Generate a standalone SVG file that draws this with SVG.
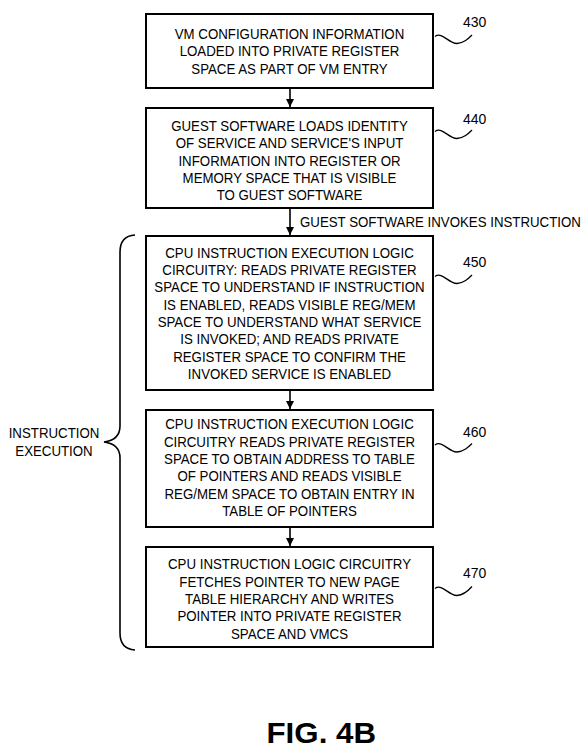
<svg xmlns="http://www.w3.org/2000/svg" width="588" height="751" viewBox="0 0 588 751">
<style>
  .box { fill: #fff; stroke: #000; stroke-width: 2; }
  .t { font-family: "Liberation Sans", Arial, sans-serif; font-size: 15px; fill: #000; text-anchor: middle; }
  .ts { font-family: "Liberation Sans", Arial, sans-serif; font-size: 15px; fill: #000; text-anchor: start; }
  .ref { font-family: "Liberation Sans", Arial, sans-serif; font-size: 14px; fill: #000; }
  .sq { fill: none; stroke: #000; stroke-width: 1.3; }
  .conn { stroke: #000; stroke-width: 1.6; fill: none; }
  .fig { font-family: "Liberation Sans", Arial, sans-serif; font-size: 30px; font-weight: bold; fill: #000; }
</style>
<defs>
  <marker id="ah" viewBox="0 0 8 8" refX="8" refY="4" markerWidth="8" markerHeight="8" markerUnits="userSpaceOnUse" orient="auto">
    <path d="M0,0 L8,4 L0,8 Z" fill="#000"/>
  </marker>
</defs>
<rect width="588" height="751" fill="#fff"/>

<g id="connectors">
  <line class="conn" x1="290" y1="89" x2="290" y2="107" marker-end="url(#ah)"/>
  <line class="conn" x1="290" y1="209" x2="290" y2="235" marker-end="url(#ah)"/>
  <line class="conn" x1="290" y1="391" x2="290" y2="409" marker-end="url(#ah)"/>
  <line class="conn" x1="290" y1="528" x2="290" y2="546" marker-end="url(#ah)"/>
  <g transform="translate(300,0) scale(0.885,1)">
    <text class="ts" x="0" y="227">GUEST SOFTWARE INVOKES INSTRUCTION</text>
  </g>
</g>

<g id="n430">
  <rect class="box" x="146" y="14" width="287" height="74"/>
  <g transform="translate(289.5,0) scale(0.885,1)">
    <text class="t" x="0" y="39">VM CONFIGURATION INFORMATION</text>
    <text class="t" x="0" y="56.5">LOADED INTO PRIVATE REGISTER</text>
    <text class="t" x="0" y="74">SPACE AS PART OF VM ENTRY</text>
  </g>
  <path class="sq" d="M435,36.5 C442,31 449,44 457,43.5 C464,43 468,39 472,35"/>
  <text class="ref" x="463" y="27.3">430</text>
</g>

<g id="n440">
  <rect class="box" x="146" y="108" width="287" height="100"/>
  <g transform="translate(289.5,0) scale(0.885,1)">
    <text class="t" x="0" y="131">GUEST SOFTWARE LOADS IDENTITY</text>
    <text class="t" x="0" y="148.3">OF SERVICE AND SERVICE'S INPUT</text>
    <text class="t" x="0" y="165.6">INFORMATION INTO REGISTER OR</text>
    <text class="t" x="0" y="183">MEMORY SPACE THAT IS VISIBLE</text>
    <text class="t" x="0" y="200.3">TO GUEST SOFTWARE</text>
  </g>
  <path class="sq" d="M435,131.5 C442,126 449,139 457,138.5 C464,138 468,134 472,130"/>
  <text class="ref" x="463" y="124.3">440</text>
</g>

<g id="n450">
  <rect class="box" x="146" y="236" width="287" height="154"/>
  <g transform="translate(289.5,0) scale(0.885,1)">
    <text class="t" x="0" y="257.7">CPU INSTRUCTION EXECUTION LOGIC</text>
    <text class="t" x="0" y="275">CIRCUITRY: READS PRIVATE REGISTER</text>
    <text class="t" x="0" y="292.3">SPACE TO UNDERSTAND IF INSTRUCTION</text>
    <text class="t" x="0" y="309.6">IS ENABLED, READS VISIBLE REG/MEM</text>
    <text class="t" x="0" y="327">SPACE TO UNDERSTAND WHAT SERVICE</text>
    <text class="t" x="0" y="344.3">IS INVOKED; AND READS PRIVATE</text>
    <text class="t" x="0" y="361.6">REGISTER SPACE TO CONFIRM THE</text>
    <text class="t" x="0" y="379">INVOKED SERVICE IS ENABLED</text>
  </g>
  <path class="sq" d="M435,276.5 C442,271 449,284 457,283.5 C464,283 468,279 472,275"/>
  <text class="ref" x="463" y="267.3">450</text>
</g>

<g id="n460">
  <rect class="box" x="146" y="410" width="287" height="117"/>
  <g transform="translate(289.5,0) scale(0.885,1)">
    <text class="t" x="0" y="429.3">CPU INSTRUCTION EXECUTION LOGIC</text>
    <text class="t" x="0" y="446.6">CIRCUITRY READS PRIVATE REGISTER</text>
    <text class="t" x="0" y="464">SPACE TO OBTAIN ADDRESS TO TABLE</text>
    <text class="t" x="0" y="481.3">OF POINTERS AND READS VISIBLE</text>
    <text class="t" x="0" y="498.6">REG/MEM SPACE TO OBTAIN ENTRY IN</text>
    <text class="t" x="0" y="516">TABLE OF POINTERS</text>
  </g>
  <path class="sq" d="M435,445 C442,439.5 449,452.5 457,452 C464,451.5 468,447.5 472,443.5"/>
  <text class="ref" x="463" y="436.7">460</text>
</g>

<g id="n470">
  <rect class="box" x="146" y="547" width="287" height="100"/>
  <g transform="translate(289.5,0) scale(0.885,1)">
    <text class="t" x="0" y="569.3">CPU INSTRUCTION LOGIC CIRCUITRY</text>
    <text class="t" x="0" y="586.6">FETCHES POINTER TO NEW PAGE</text>
    <text class="t" x="0" y="604">TABLE HIERARCHY AND WRITES</text>
    <text class="t" x="0" y="621.3">POINTER INTO PRIVATE REGISTER</text>
    <text class="t" x="0" y="638.6">SPACE AND VMCS</text>
  </g>
  <path class="sq" d="M435,588.5 C442,583 449,596 457,595.5 C464,595 468,591 472,586.5"/>
  <text class="ref" x="463" y="578.3">470</text>
</g>

<g id="brace">
  <path fill="none" stroke="#000" stroke-width="1.6" d="M135,235 Q120,236 120,252 L120,426 Q120,440 104,442 Q120,444 120,458 L120,633 Q120,649 135,650"/>
  <g transform="translate(54,0) scale(0.885,1)">
    <text class="t" x="0" y="438.3">INSTRUCTION</text>
    <text class="t" x="0" y="456">EXECUTION</text>
  </g>
</g>

<g id="caption">
  <text class="fig" x="266.5" y="742.7" textLength="109.5" lengthAdjust="spacingAndGlyphs">FIG. 4B</text>
</g>
</svg>
